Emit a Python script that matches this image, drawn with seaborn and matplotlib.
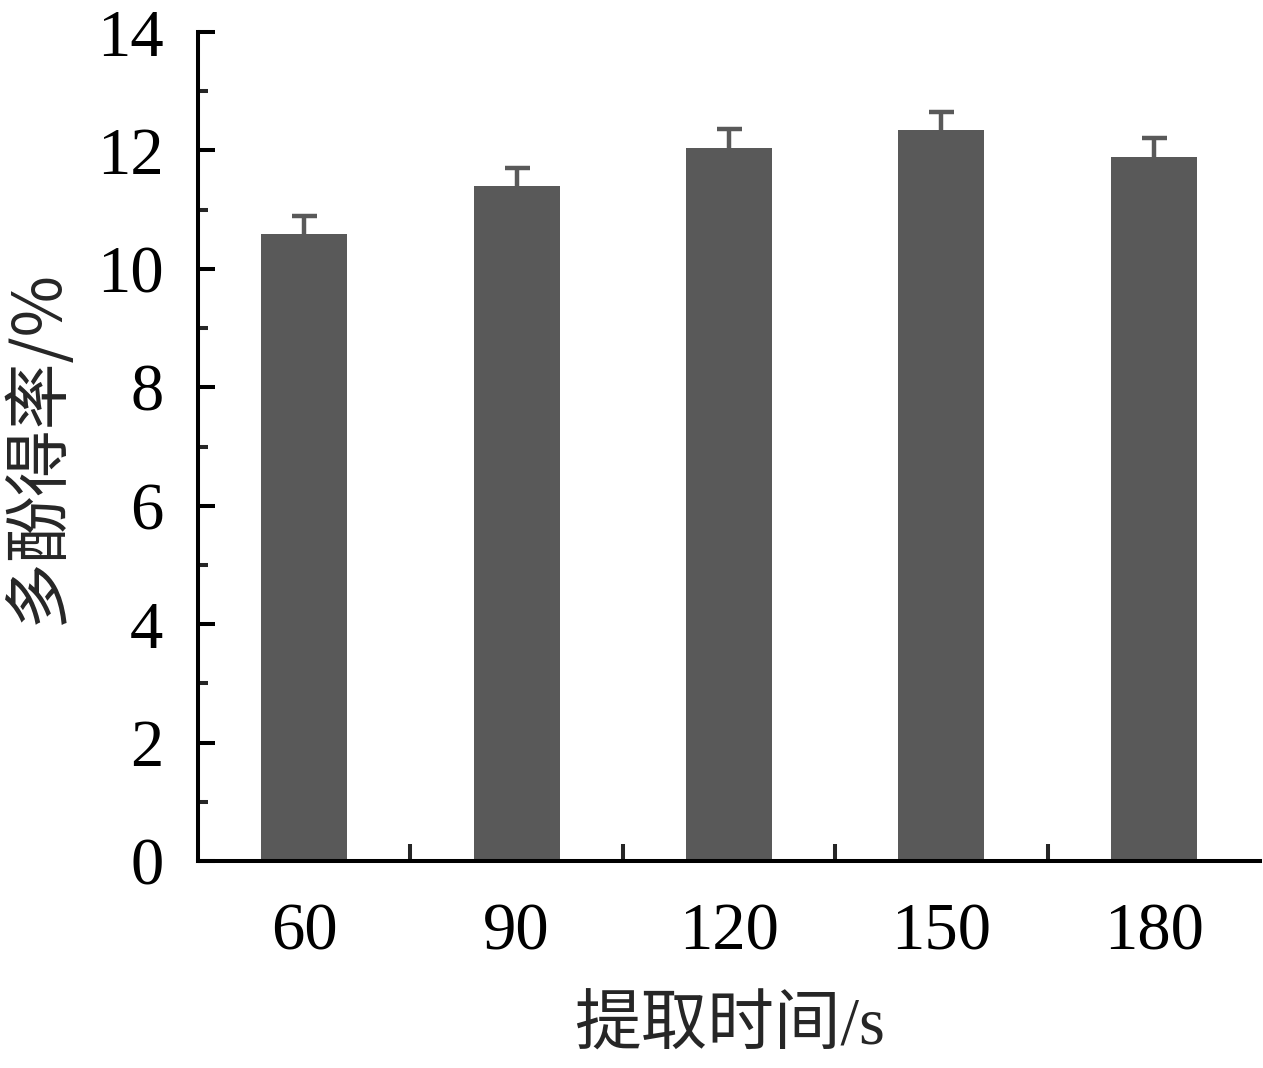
import matplotlib
matplotlib.use("Agg")
import matplotlib.pyplot as plt
import seaborn as sns
import pandas as pd
import numpy as np

times = ["60", "90", "120", "150", "180"]
yield_pct = [10.59, 11.40, 12.04, 12.35, 11.89]
yield_err = [0.30, 0.30, 0.32, 0.30, 0.32]
y_ticks = [0, 2, 4, 6, 8, 10, 12, 14]

sns.set_theme(style="ticks")
plt.rcParams['font.family'] = ['Liberation Serif', 'Noto Sans CJK SC']

df = pd.DataFrame({"time": times, "yield": yield_pct})

fig = plt.figure(figsize=(12.63, 10.68), dpi=100)
ax = fig.add_axes([0.1568, 0.1938, 0.8408, 0.7762])
bar_color = "#595959"
sns.barplot(data=df, x="time", y="yield", color=bar_color, width=0.405,
            saturation=1, errorbar=None, ax=ax)
for p in ax.patches:
    p.set_zorder(3)
    p.set_edgecolor("none")
xs = np.arange(len(times))
ax.errorbar(xs, yield_pct, yerr=yield_err, fmt="none",
            ecolor=bar_color, elinewidth=3.2, capsize=9, capthick=3.2, zorder=2)

ax.set_ylim(0, 14)
ax.set_xlim(-0.5, len(times) - 0.5)
ax.set_yticks(y_ticks)
ax.set_yticks(np.arange(1, 14, 2), minor=True)
ax.set_xticks(xs)
ax.set_xticklabels(times)
ax.set_xticks(np.arange(0.5, len(times) - 0.5, 1), minor=True)

for s in ["top", "right"]:
    ax.spines[s].set_visible(False)
for s in ["left", "bottom"]:
    ax.spines[s].set_linewidth(2.9)
    ax.spines[s].set_color("black")
    ax.spines[s].set_zorder(4)

ax.tick_params(axis="y", which="major", direction="in", length=12, width=2.9,
               labelsize=48, pad=25, colors="black")
ax.tick_params(axis="y", which="minor", direction="in", length=7, width=2.9)
ax.tick_params(axis="x", which="major", length=0, labelsize=48, pad=30, colors="black")
ax.tick_params(axis="x", which="minor", direction="in", length=12, width=2.9)

ax.set_xlabel("提取时间/s", fontsize=48, labelpad=24,
              family=['Liberation Serif', 'Noto Sans CJK SC'])
ax.set_ylabel("多酚得率/%", fontsize=48, labelpad=18,
              family=['Noto Sans CJK SC', 'Liberation Serif'])

fig.savefig("out.png", dpi=100, facecolor="white")
